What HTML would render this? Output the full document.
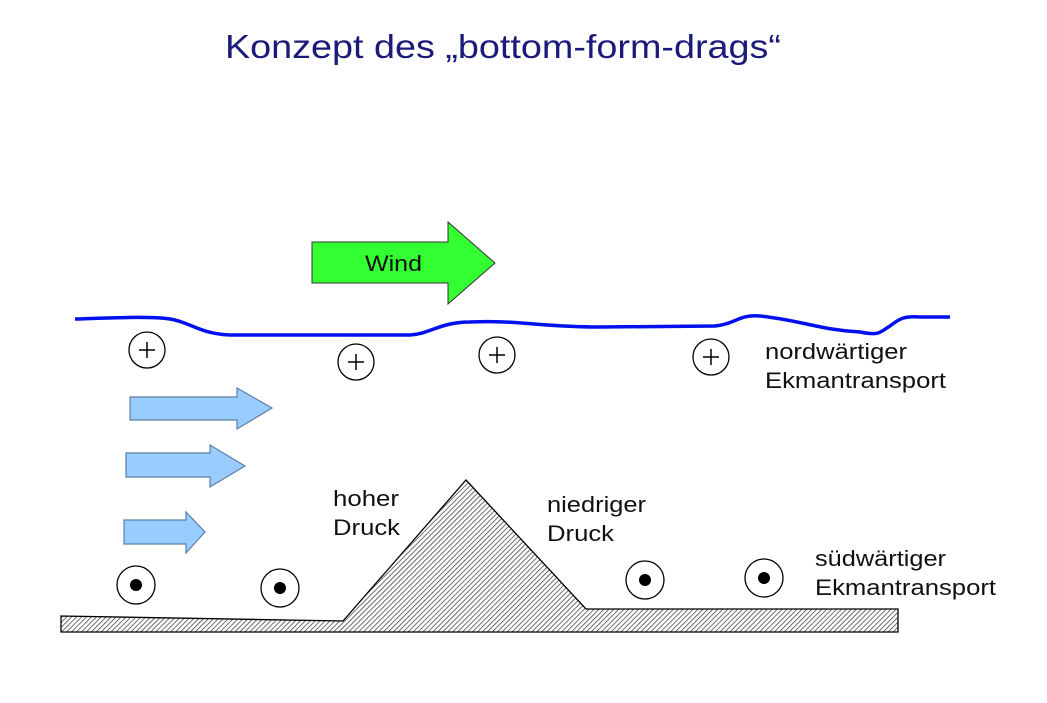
<!DOCTYPE html>
<html><head><meta charset="utf-8"><style>
html,body{margin:0;padding:0;background:#fff;}
svg{display:block;}
text{font-family:"Liberation Sans",Arial,sans-serif;}
</style></head><body>
<svg width="1047" height="703" viewBox="0 0 1047 703" xmlns="http://www.w3.org/2000/svg">
<defs>
<pattern id="h" patternUnits="userSpaceOnUse" width="3.5" height="3.5" patternTransform="rotate(45)">
<rect width="3.5" height="3.5" fill="#fff"/><line x1="0" y1="0" x2="0" y2="3.5" stroke="#333" stroke-width="1.4"/>
</pattern>
</defs>
<text x="225" y="58" font-size="33" fill="#1a1a7a" textLength="556" lengthAdjust="spacingAndGlyphs">Konzept des  „bottom-form-drags“</text>
<polygon points="312,242 448,242 448,222 495,263 448,304 448,283 312,283" fill="#33ff33" stroke="#333" stroke-width="1"/>
<text x="365" y="271" font-size="22" fill="#111" textLength="57" lengthAdjust="spacingAndGlyphs">Wind</text>
<path d="M75,319 C110,318 150,316 170,319 C190,322 200,334 230,335 L410,335 C430,334 440,322 470,322 C520,320 540,327 600,327 L715,326 C735,324 740,314 760,316 C800,320 820,330 860,332 C880,336 880,332 890,326 C900,318 905,316 920,317 L950,317" fill="none" stroke="#0010ee" stroke-width="3.5"/>
<g fill="#fff" stroke="#000" stroke-width="1.3">
<circle cx="147" cy="350" r="18"/><circle cx="356" cy="362" r="18"/><circle cx="497" cy="355" r="18"/><circle cx="711" cy="357" r="18"/>
</g>
<g stroke="#000" stroke-width="1.5">
<path d="M139,350h16M147,342v16M348,362h16M356,354v16M489,355h16M497,347v16M703,357h16M711,349v16"/>
</g>
<g fill="#99ccff" stroke="#5a7fa8" stroke-width="1.2">
<polygon points="130,397 237,397 237,388 272,408 237,429 237,420 130,420"/>
<polygon points="126,453 210,453 210,445 245,466 210,487 210,477 126,477"/>
<polygon points="124,520 186,520 186,512 205,532 186,553 186,544 124,544"/>
</g>
<polygon points="61,616 343,621 466,480 586,609 898,609 898,632 61,632" fill="url(#h)" stroke="#000" stroke-width="1.3"/>
<g fill="#fff" stroke="#000" stroke-width="1.3">
<circle cx="136" cy="585" r="19"/><circle cx="280" cy="588" r="19"/><circle cx="645" cy="580" r="19"/><circle cx="764" cy="578" r="19"/>
</g>
<g fill="#000"><circle cx="136" cy="585" r="6"/><circle cx="280" cy="588" r="6"/><circle cx="645" cy="580" r="6"/><circle cx="764" cy="578" r="6"/></g>
<g font-size="22" fill="#111" lengthAdjust="spacingAndGlyphs">
<text x="765" y="359" textLength="142" lengthAdjust="spacingAndGlyphs">nordwärtiger</text><text x="765" y="388" textLength="181" lengthAdjust="spacingAndGlyphs">Ekmantransport</text>
<text x="333" y="506" textLength="66" lengthAdjust="spacingAndGlyphs">hoher</text><text x="333" y="535" textLength="67" lengthAdjust="spacingAndGlyphs">Druck</text>
<text x="547" y="512" textLength="99" lengthAdjust="spacingAndGlyphs">niedriger</text><text x="547" y="541" textLength="67" lengthAdjust="spacingAndGlyphs">Druck</text>
<text x="815" y="566" textLength="131" lengthAdjust="spacingAndGlyphs">südwärtiger</text><text x="815" y="595" textLength="181" lengthAdjust="spacingAndGlyphs">Ekmantransport</text>
</g>
</svg>
</body></html>
